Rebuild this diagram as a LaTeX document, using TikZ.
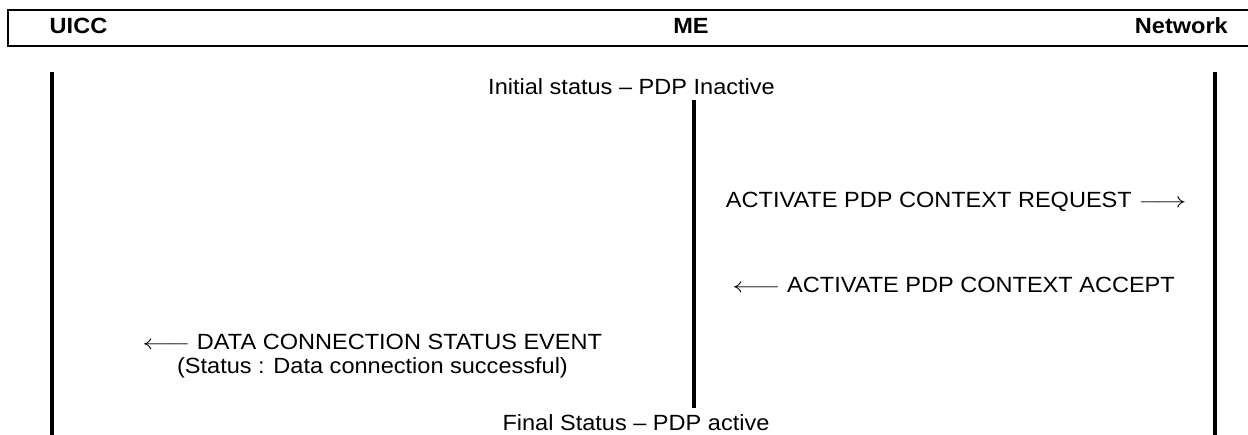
\documentclass[tikz,border=0pt]{standalone}
\usepackage{fontspec}
\setmainfont{Liberation Sans}[FakeStretch=1.07]
\newcommand{\rarrow}{\scalebox{1.45}[1]{$\longrightarrow$}}
\newcommand{\larrow}{\scalebox{1.45}[1]{$\longleftarrow$}}
\begin{document}
\begin{tikzpicture}[x=1pt,y=-1pt,
  txt/.style={inner sep=0pt,anchor=base,font=\fontsize{22}{26}\selectfont},
  hdr/.style={txt,font=\fontsize{22}{26}\selectfont\bfseries},
  life/.style={line width=4pt},
  boxline/.style={line width=2pt}]
\useasboundingbox (0,0) rectangle (1248,434);
% header
\draw[boxline] (1260,10) -- (8,10) -- (8,46) -- (1260,46);
\node[hdr] (uicc) at (78.5,33) {UICC};
\node[hdr] (me) at (691,33) {ME};
\node[hdr,anchor=base east] (net) at (1228,33) {Network};
% lifelines
\coordinate (u1) at (52,72);
\coordinate (u2) at (52,440);
\coordinate (n1) at (1215,72);
\coordinate (n2) at (1215,440);
\coordinate (m1) at (694,100);
\coordinate (m2) at (694,408);
\draw[life] (u1) -- (u2);
\draw[life] (n1) -- (n2);
\draw[life] (m1) -- (m2);
% texts
\node[txt] (init) at (631.5,94) {Initial status -- PDP Inactive};
\node[txt,anchor=base east] (req) at (1187,207) {ACTIVATE PDP CONTEXT REQUEST \rarrow};
\node[txt,anchor=base east] (acc) at (1175,292) {\larrow{} ACTIVATE PDP CONTEXT ACCEPT};
\node[txt] (dcs) at (372,349) {\larrow{} DATA CONNECTION STATUS EVENT};
\node[txt] (dcs2) at (372.5,373) {(Status : Data connection successful)};
\node[txt] (fin) at (636,430) {Final Status -- PDP active};
\end{tikzpicture}
\end{document}
